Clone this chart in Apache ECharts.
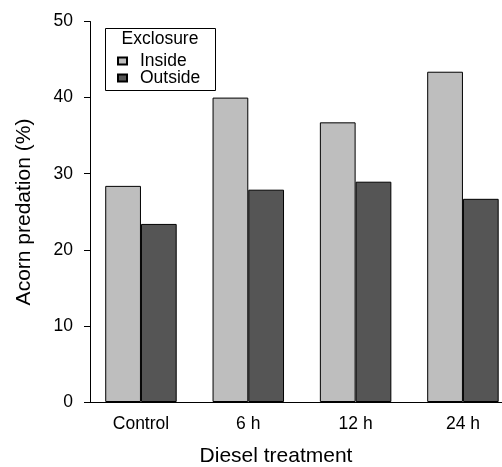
<!DOCTYPE html>
<html>
<head>
<meta charset="utf-8">
<script src="https://cdn.jsdelivr.net/npm/echarts@6/dist/echarts.min.js"></script>
<style>html,body{margin:0;padding:0;background:#fff}#c{width:502px;height:467px}</style>
</head>
<body>
<div id="c"></div>
<script>
var categories = ['Control', '6 h', '12 h', '24 h'];
var insideValues = [28.4, 40.0, 36.75, 43.4];
var outsideValues = [23.4, 27.9, 28.95, 26.7];
var yTicks = [0, 10, 20, 30, 40, 50];
var seriesNames = ['Inside', 'Outside'];
var legendTitle = 'Exclosure';
var xTitle = 'Diesel treatment';
var yTitle = 'Acorn predation (%)';

var FONT = "'Liberation Sans', Arial, Helvetica, sans-serif";
var FS = 17.5;
var chart = echarts.init(document.getElementById('c'), null, {renderer: 'canvas'});
chart.setOption({
  animation: false,
  backgroundColor: '#fff',
  grid: {left: 87.3, top: 21.5, width: 429.3, height: 380.5, containLabel: false, outerBoundsMode: 'none'},
  xAxis: {
    type: 'category',
    data: categories,
    axisLine: {lineStyle: {color: '#000', width: 1}},
    axisTick: {show: false},
    axisLabel: {color: '#000', fontSize: FS, fontFamily: FONT, margin: 13}
  },
  yAxis: {
    type: 'value',
    min: yTicks[0], max: yTicks[yTicks.length - 1], interval: 10,
    offset: -2.7,
    splitLine: {show: false},
    axisLine: {show: true, lineStyle: {color: '#000', width: 1}},
    axisTick: {show: true, length: 6, lineStyle: {color: '#000'}},
    axisLabel: {color: '#000', fontSize: FS, fontFamily: FONT, margin: 17}
  },
  legend: {
    orient: 'vertical',
    left: 117, top: 52,
    padding: 0,
    itemWidth: 9, itemHeight: 7,
    itemGap: -1,
    icon: 'rect',
    data: seriesNames,
    textStyle: {color: '#000', fontSize: FS, fontFamily: FONT, lineHeight: 16, padding: [0, 0, 0, 8]}
  },
  graphic: [
    {type: 'rect', shape: {x: 105.5, y: 28.5, width: 110, height: 62}, style: {fill: 'none', stroke: '#000', lineWidth: 1}, z: 10},
    {type: 'text', x: 160, y: 39, style: {text: legendTitle, fontSize: FS, fontFamily: FONT, fill: '#000', textAlign: 'center', textVerticalAlign: 'middle'}, z: 10},
    {type: 'text', x: 276, y: 456.5, style: {text: xTitle, fontSize: 21, fontFamily: FONT, fill: '#000', textAlign: 'center', textVerticalAlign: 'middle'}},
    {type: 'text', x: 24.4, y: 212, rotation: Math.PI / 2, style: {text: yTitle, fontSize: 21, fontFamily: FONT, fill: '#000', textAlign: 'center', textVerticalAlign: 'middle'}}
  ],
  series: [
    {name: seriesNames[0], type: 'bar', data: insideValues, barGap: '0%', barCategoryGap: '33.4%',
     itemStyle: {color: '#bebebe', borderColor: '#000', borderWidth: 1}},
    {name: seriesNames[1], type: 'bar', data: outsideValues, barGap: '0%', barCategoryGap: '33.4%',
     itemStyle: {color: '#555555', borderColor: '#000', borderWidth: 1}}
  ]
});
</script>
</body>
</html>
